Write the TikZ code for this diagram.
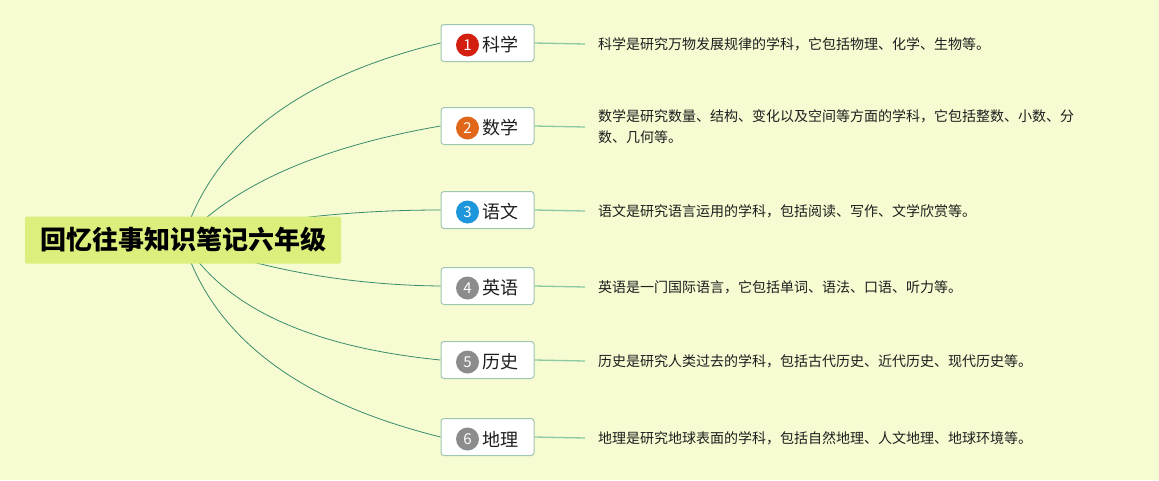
\documentclass[tikz,border=0pt]{standalone}
\usepackage{fontspec}
\setmainfont{Noto Sans CJK SC}
\usetikzlibrary{backgrounds}
\definecolor{paper}{HTML}{F6FBD1}
\definecolor{rootfill}{HTML}{DCEF7C}
\definecolor{boxline}{HTML}{9EC6B0}
\definecolor{curveline}{HTML}{3A8C6C}
\definecolor{stubline}{HTML}{8CC9A2}
\definecolor{hueA}{HTML}{D21F10}
\definecolor{hueB}{HTML}{E0661A}
\definecolor{hueC}{HTML}{1E96DC}
\definecolor{hueD}{HTML}{8C8C8C}
\definecolor{ink}{HTML}{1E1E1E}
\tikzset{
	root/.style={fill=rootfill, rounded corners=2pt, minimum width=316pt, minimum height=47pt, inner sep=0pt, text=black, font=\fontsize{26}{26}\selectfont\bfseries},
	branch/.style={draw=boxline, line width=1pt, fill=white, rounded corners=3pt, minimum width=93pt, minimum height=37pt, inner sep=0pt},
	badge/.style={circle, inner sep=0pt, minimum size=23pt, text=white, font=\fontsize{15}{15}\selectfont},
	sublabel/.style={anchor=west, inner sep=0pt, text=ink, font=\fontsize{18}{18}\selectfont},
	note/.style={anchor=west, inner xsep=13pt, inner ysep=0pt, align=left, text=ink, font=\fontsize{14}{21}\selectfont},
	curve/.style={draw=curveline, line width=0.8pt},
	stub/.style={draw=stubline, line width=1.3pt}
}
\begin{document}
\begin{tikzpicture}[x=1pt, y=-1pt]
		%paper
		\begin{scope}[on background layer]
		\fill[paper] (0,0) rectangle (1159,480);
		\end{scope}
		\useasboundingbox (0,0) rectangle (1159,480);
		%central topic
		\node[root] (root) at (183,240) {回忆往事知识笔记六年级};
		%six subjects
		\foreach \i/\y/\col/\lab/\ax/\ay/\bx/\by/\desc in {
			1/43/hueA/科学/29/-97/-141/34/{科学是研究万物发展规律的学科，它包括物理、化学、生物等。},
			2/126/hueB/数学/50/-55/-121/21/{数学是研究数量、结构、变化以及空间等方面的学科，它包括整数、小数、分\\数、几何等。},
			3/210/hueC/语文/77/-20/-94/0/{语文是研究语言运用的学科，包括阅读、写作、文学欣赏等。},
			4/286/hueD/英语/77/29/-94/-1/{英语是一门国际语言，它包括单词、语法、口语、听力等。},
			5/360/hueD/历史/40/67/-131/-13/{历史是研究人类过去的学科，包括古代历史、近代历史、现代历史等。},
			6/437/hueD/地理/29/97/-141/-35/{地理是研究地球表面的学科，包括自然地理、人文地理、地球环境等。}}
		{
		\node[branch] (b\i) at (487.5,\y) {};
		\node[badge, fill=\col] (n\i) at ([xshift=27pt,yshift=-2pt]b\i.west) {\i};
		\node[sublabel] (l\i) at ([xshift=42pt,yshift=-2pt]b\i.west) {\lab};
		\node[note] (d\i) at (585,\y+1) {\desc};
		\draw[stub] (b\i.east) -- (d\i.west);
		\begin{scope}[on background layer]
		\draw[curve] (root.center) .. controls +(\ax,\ay) and +(\bx,\by) .. (b\i.west);
		\end{scope}
		}
\end{tikzpicture}
\end{document}
